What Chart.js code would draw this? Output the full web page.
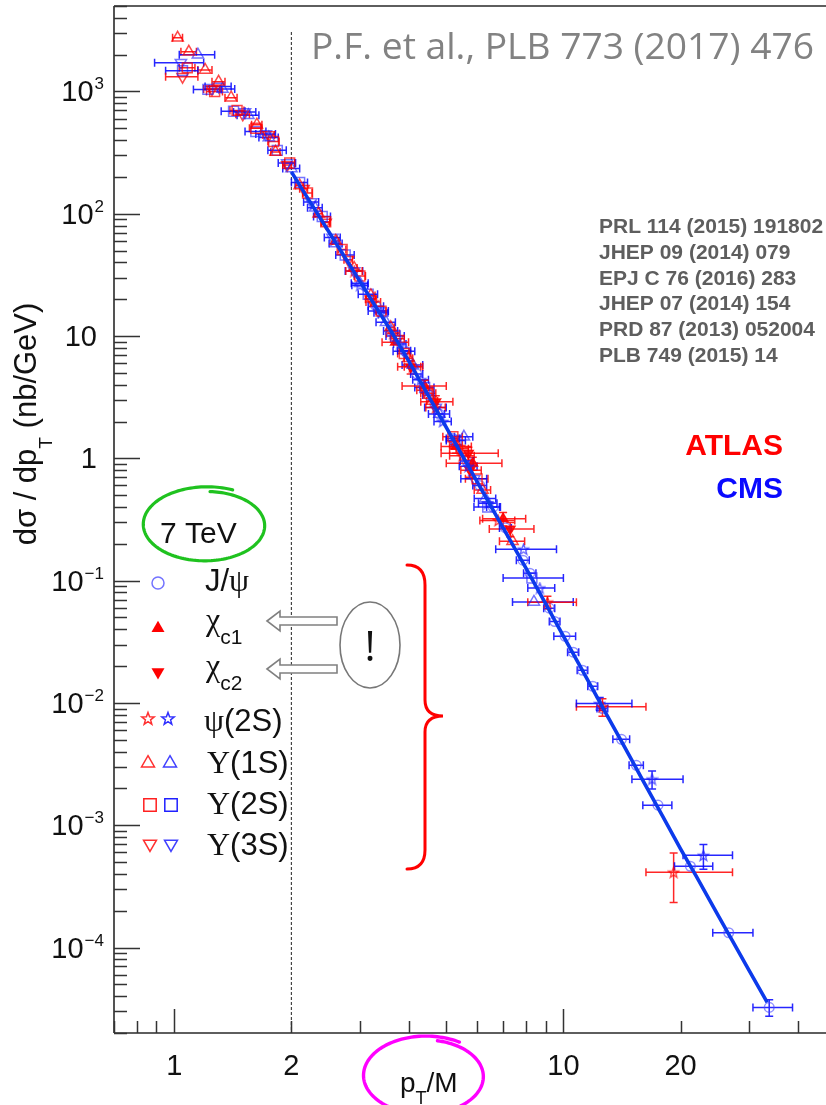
<!DOCTYPE html>
<html>
<head>
<meta charset="utf-8">
<script src="https://cdn.jsdelivr.net/npm/chart.js@4.4.1/dist/chart.umd.min.js"></script>
<style>
html,body{margin:0;padding:0;background:#fff;}
canvas{display:block;}
</style>
</head>
<body>
<canvas id="c" width="826" height="1105"></canvas>
<script>
// ---------------- DATA ----------------
// Universal fit curve
const fitX = [2.0, 2.2, 2.4, 2.6, 2.8, 3.0, 3.3, 3.6, 4.0, 4.5, 5.0, 5.5, 6.0, 7.0, 8.0, 9.0, 10, 11, 12, 13, 14, 15, 16, 18, 20, 22, 25, 28, 30, 33.4];
const fitY = [220, 135, 87, 58, 39.8, 28, 17.2, 11.1, 6.3, 3.24, 1.79, 1.05, 0.644, 0.27, 0.128, 0.065, 0.0352, 0.0204, 0.0123, 0.00774, 0.00505, 0.00339, 0.00233, 0.00118, 6.4e-4, 3.78e-4, 1.82e-4, 9.6e-5, 6.5e-5, 3.56e-5];

// CMS J/psi (open circles)
const cmsJpsiX = [3.3, 3.6, 3.9, 4.2, 4.5, 4.8, 5.2, 5.65, 6.1, 6.6, 7.1, 7.87, 8.2, 9.2, 9.5, 10.1, 10.6, 11.2, 11.9, 12.6, 14.1, 15.4, 17.5, 21.2, 26.6, 33.8];
const cmsJpsiY = [17.5, 11.0, 7.6, 4.9, 3.3, 2.3, 1.45, 0.95, 0.60, 0.40, 0.27, 0.147, 0.115, 0.0596, 0.0463, 0.0351, 0.026, 0.0185, 0.0137, 0.0090, 0.00504, 0.00309, 0.00146, 4.62e-4, 1.32e-4, 3.24e-5];
const cmsJpsiXerr = [0.15, 0.15, 0.15, 0.15, 0.15, 0.15, 0.2, 0.22, 0.25, 0.25, 0.25, 0.3, 0.3, 0.3, 0.3, 0.65, 0.35, 0.35, 0.35, 0.4, 0.7, 0.65, 1.5, [1.9, 3.0], [2.4, 4.1], [3.1, 5.0]];
const cmsJpsiYerr = [0.5, 0.35, 0.22, 0.15, 0.1, 0.07, 0.045, 0.03, 0.02, 0.013, 0.009, 0.005, 0.004, 0.002, 0.0016, 0.0012, 0.0009, 0.0007, 0.0005, 0.0004, 0.00022, 0.00015, 0.0001, 3.5e-5, 1.2e-5, 5e-6];

// CMS psi(2S) (open stars)
const cmsPsi2SX = [3.0, 3.4, 3.8, 4.3, 4.9, 5.7, 6.4, 7.9, 8.7, 12.4, 16.9, 22.9];
const cmsPsi2SY = [26, 15.5, 8.6, 4.4, 2.0, 0.86, 0.43, 0.181, 0.087, 0.0099, 0.00238, 5.67e-4];
const cmsPsi2SXerr = [0.14, 0.14, 0.14, 0.2, 0.25, 0.3, 0.35, [1.2, 1.7], [0.6, 0.8], [1.6, 2.6], [1.9, 3.4], [2.6, 4.3]];
const cmsPsi2SYerr = [1.0, 0.6, 0.35, 0.2, 0.1, 0.05, 0.03, 0.015, 0.007, 0.0012, 0.0004, 1.3e-4];

// ATLAS psi(2S) (open stars)
const atlasPsi2SX = [2.9, 3.25, 3.65, 4.1, 4.7, 5.5, 6.8, 9.1, 12.6, 19.2];
const atlasPsi2SY = [34, 19, 10.5, 5.6, 2.6, 1.05, 0.31, 0.0667, 0.0093, 4.13e-4];
const atlasPsi2SXerr = [0.14, 0.14, 0.14, 0.2, 0.27, 0.4, 0.7, [1.0, 1.7], [1.8, 3.7], [2.9, 8.0]];
const atlasPsi2SYerr = [2.0, 1.2, 0.7, 0.4, 0.2, 0.09, 0.03, 0.008, 0.0015, 1.8e-4];

// ATLAS chi_c1 (filled triangles)
const atlasChic1X = [3.7, 4.4, 5.3, 5.85, 7.0];
const atlasChic1Y = [8.9, 3.9, 1.25, 0.91, 0.32];
const atlasChic1Xerr = [[0.28, 0.3], [0.55, 0.6], [0.45, 0.5], [0.85, 1.1], [0.8, 1.0]];
const atlasChic1Yerr = [1.0, 0.45, 0.15, 0.11, 0.04];

// ATLAS chi_c2 (filled inverted triangles)
const atlasChic2X = [4.05, 4.7, 5.7, 5.75, 7.3];
const atlasChic2Y = [5.6, 2.9, 1.1, 0.8, 0.264];
const atlasChic2Xerr = [[0.3, 0.3], [0.4, 0.5], [0.85, 1.1], [0.3, 0.4], [0.85, 1.1]];
const atlasChic2Yerr = [0.7, 0.35, 0.13, 0.1, 0.035];

// Upsilon(1S)
const atlasUps1SX = [1.02, 1.09, 1.20, 1.30, 1.40, 1.63, 1.82, 2.1, 2.35, 2.6, 2.9, 3.2, 3.6, 4.0, 4.6, 5.3, 6.2, 7.4];
const atlasUps1SY = [2750, 2110, 1500, 1200, 890, 535, 320, 170, 100, 60, 36, 21.5, 11.8, 6.6, 2.95, 1.3, 0.55, 0.21];
const atlasUps1SXerr = [0.03, 0.05, 0.05, 0.05, 0.05, 0.05, 0.05, 0.05, 0.05, 0.05, 0.05, 0.08, 0.08, 0.1, 0.15, 0.2, 0.3, 0.55];
const cmsUps1SX = [1.15, 1.33, 1.55, 1.75, 2.0, 2.3, 2.6, 3.0, 3.5, 4.1, 4.8, 5.55, 6.3, 8.4];
const cmsUps1SY = [2000, 1050, 640, 420, 235, 112, 57, 27, 13, 5.8, 2.3, 1.5, 0.47, 0.067];
const cmsUps1SXerr = [0.12, 0.1, 0.1, 0.1, 0.1, 0.1, 0.1, 0.15, 0.2, 0.25, 0.3, 0.3, 0.4, [1.0, 2.2]];

// Upsilon(2S)
const atlasUps2SX = [1.08, 1.27, 1.45, 1.62, 1.80, 1.98, 2.2, 2.45, 2.7, 3.0, 3.4, 3.9, 4.5, 5.2, 6.0];
const atlasUps2SY = [1560, 1000, 700, 500, 390, 260, 148, 86, 51, 31, 16, 7.2, 3.4, 1.5, 0.68];
const atlasUps2SXerr = [0.05, 0.06, 0.06, 0.06, 0.06, 0.06, 0.06, 0.06, 0.06, 0.1, 0.1, 0.15, 0.2, 0.3, 0.4];
const cmsUps2SX = [1.05, 1.22, 1.42, 1.62, 1.84, 2.1, 2.4, 2.75, 3.15, 3.7, 4.4, 5.3, 6.39, 8.3];
const cmsUps2SY = [1480, 1040, 690, 470, 330, 180, 95, 46, 22, 10, 3.8, 1.4, 0.40, 0.105];
const cmsUps2SXerr = [0.1, 0.1, 0.1, 0.1, 0.1, 0.1, 0.12, 0.15, 0.18, 0.2, 0.25, 0.3, 0.5, [1.3, 1.7]];

// Upsilon(3S)
const atlasUps3SX = [1.05, 1.25, 1.5, 1.75, 1.95, 2.15, 2.45, 2.8, 3.2, 3.75, 4.4, 5.4];
const atlasUps3SY = [1320, 1050, 650, 440, 250, 160, 85, 42, 20, 9.5, 3.6, 1.2];
const atlasUps3SXerr = [0.1, 0.06, 0.06, 0.06, 0.05, 0.05, 0.06, 0.07, 0.1, 0.15, 0.2, 0.3];
const cmsUps3SX = [1.04, 1.30, 1.52, 1.72, 1.95, 2.25, 2.55, 2.9, 3.35, 3.9, 4.7, 5.9];
const cmsUps3SY = [1720, 1100, 680, 450, 260, 125, 64, 34, 16, 7.5, 2.6, 0.68];
const cmsUps3SXerr = [0.15, 0.1, 0.1, 0.1, 0.1, 0.1, 0.12, 0.15, 0.2, 0.25, 0.3, 0.45];

// Axis ticks / labels
const xTickValues = [1, 2, 10, 20];
const xTickLabels = ['1', '2', '10', '20'];
const yTickValues = [1e-4, 1e-3, 1e-2, 1e-1, 1, 10, 100, 1000];
const yTickBases = ['10', '10', '10', '10', '1', '10', '10', '10'];
const yTickExps = ['\u22124', '\u22123', '\u22122', '\u22121', '', '', '2', '3'];

// Text
const legendLabels = ['J/\u03C8', '\u03C7c1', '\u03C7c2', '\u03C8(2S)', '\u03A5(1S)', '\u03A5(2S)', '\u03A5(3S)'];
const citations = ['PRL 114 (2015) 191802', 'JHEP 09 (2014) 079', 'EPJ C 76 (2016) 283', 'JHEP 07 (2014) 154', 'PRD 87 (2013) 052004', 'PLB 749 (2015) 14'];
const headerText = 'P.F. et al., PLB 773 (2017) 476';

// ---------------- STYLE / BUILD ----------------
const SANS = '"Liberation Sans", Arial, Helvetica, sans-serif';
const SERIF = '"Liberation Serif", "Times New Roman", serif';
Chart.defaults.font.family = SANS;

const RED_M = 'rgba(255,0,0,0.72)';
const BLUE_M = 'rgba(30,30,255,0.62)';
const RED_E = 'rgba(255,0,0,0.85)';
const BLUE_E = 'rgba(0,0,255,0.85)';

function starCanvas(color, size) {
  const c = document.createElement('canvas');
  c.width = c.height = size;
  const g = c.getContext('2d');
  g.strokeStyle = color; g.lineWidth = 1.3; g.lineJoin = 'miter';
  const R = size / 2 - 1, r = R * 0.42, cx = size / 2, cy = size / 2 + 0.5;
  g.beginPath();
  for (let k = 0; k < 10; k++) {
    const a = -Math.PI / 2 + k * Math.PI / 5;
    const rr = (k % 2) ? r : R;
    const px = cx + rr * Math.cos(a), py = cy + rr * Math.sin(a);
    if (k) g.lineTo(px, py); else g.moveTo(px, py);
  }
  g.closePath(); g.stroke();
  return c;
}
const redStar = starCanvas('rgba(255,0,0,0.8)', 13);
const blueStar = starCanvas('rgba(30,30,255,0.75)', 13);

function pts(xs, ys) { return xs.map((x, i) => ({ x: x, y: ys[i] })); }

function series(label, xs, ys, xe, ye, style, color, errColor, extra) {
  return Object.assign({
    label: label,
    data: pts(xs, ys),
    xErr: xe, yErr: ye, errColor: errColor,
    showLine: false,
    pointStyle: style,
    pointRadius: 6,
    pointRotation: 0,
    borderColor: color,
    backgroundColor: 'rgba(0,0,0,0)',
    pointBorderWidth: 1.5,
    order: 2
  }, extra || {});
}

const datasets = [
  {
    type: 'line', label: 'fit', data: pts(fitX, fitY), showLine: true,
    borderColor: 'rgb(12,58,235)', borderWidth: 3.6, pointRadius: 0, tension: 0, order: 0
  },
  series('ATLAS \u03A5(1S)', atlasUps1SX, atlasUps1SY, atlasUps1SXerr, null, 'triangle', RED_M, RED_E, { pointRadius: 6.5 }),
  series('CMS \u03A5(1S)', cmsUps1SX, cmsUps1SY, cmsUps1SXerr, null, 'triangle', BLUE_M, BLUE_E, { pointRadius: 6.5 }),
  series('ATLAS \u03A5(2S)', atlasUps2SX, atlasUps2SY, atlasUps2SXerr, null, 'rect', RED_M, RED_E, { pointRadius: 7 }),
  series('CMS \u03A5(2S)', cmsUps2SX, cmsUps2SY, cmsUps2SXerr, null, 'rect', BLUE_M, BLUE_E, { pointRadius: 7 }),
  series('ATLAS \u03A5(3S)', atlasUps3SX, atlasUps3SY, atlasUps3SXerr, null, 'triangle', RED_M, RED_E, { pointRadius: 6.5, pointRotation: 180 }),
  series('CMS \u03A5(3S)', cmsUps3SX, cmsUps3SY, cmsUps3SXerr, null, 'triangle', BLUE_M, BLUE_E, { pointRadius: 6.5, pointRotation: 180 }),
  series('ATLAS \u03C8(2S)', atlasPsi2SX, atlasPsi2SY, atlasPsi2SXerr, atlasPsi2SYerr, redStar, RED_M, RED_E, {}),
  series('CMS \u03C8(2S)', cmsPsi2SX, cmsPsi2SY, cmsPsi2SXerr, cmsPsi2SYerr, blueStar, BLUE_M, BLUE_E, {}),
  series('ATLAS \u03C7c1', atlasChic1X, atlasChic1Y, atlasChic1Xerr, atlasChic1Yerr, 'triangle', 'rgba(255,0,0,0.9)', RED_E, { pointRadius: 5.5, backgroundColor: 'rgba(255,0,0,0.85)' }),
  series('ATLAS \u03C7c2', atlasChic2X, atlasChic2Y, atlasChic2Xerr, atlasChic2Yerr, 'triangle', 'rgba(255,0,0,0.9)', RED_E, { pointRadius: 5.5, pointRotation: 180, backgroundColor: 'rgba(255,0,0,0.85)' }),
  series('CMS J/\u03C8', cmsJpsiX, cmsJpsiY, cmsJpsiXerr, cmsJpsiYerr, 'circle', 'rgba(70,70,255,0.6)', BLUE_E, { pointRadius: 4.8 })
];

// ---------------- PLUGINS ----------------
const errorBars = {
  id: 'errorBars',
  beforeDatasetsDraw(chart) {
    const ctx = chart.ctx, a = chart.chartArea, xs = chart.scales.x, ys = chart.scales.y;
    ctx.save();
    ctx.beginPath(); ctx.rect(a.left, a.top, a.right - a.left, a.bottom - a.top); ctx.clip();
    // dashed vertical line at pT/M = 2
    const x2 = xs.getPixelForValue(2);
    ctx.strokeStyle = '#444'; ctx.lineWidth = 1.2; ctx.setLineDash([3, 2]);
    ctx.beginPath(); ctx.moveTo(x2, 32); ctx.lineTo(x2, a.bottom); ctx.stroke();
    ctx.setLineDash([]);
    chart.data.datasets.forEach((ds, i) => {
      if (!ds.xErr) return;
      const meta = chart.getDatasetMeta(i);
      ctx.strokeStyle = ds.errColor; ctx.lineWidth = 1.5;
      ds.data.forEach((p, j) => {
        const el = meta.data[j]; if (!el) return;
        const px = el.x, py = el.y;
        const xe = ds.xErr[j];
        const lo = Array.isArray(xe) ? xe[0] : xe, hi = Array.isArray(xe) ? xe[1] : xe;
        const xl = xs.getPixelForValue(p.x - lo), xh = xs.getPixelForValue(p.x + hi);
        ctx.beginPath();
        ctx.moveTo(xl, py); ctx.lineTo(xh, py);
        ctx.moveTo(xl, py - 4); ctx.lineTo(xl, py + 4);
        ctx.moveTo(xh, py - 4); ctx.lineTo(xh, py + 4);
        const ye = ds.yErr ? ds.yErr[j] : 0;
        if (ye) {
          const yl = ys.getPixelForValue(Math.max(p.y - ye, p.y * 0.05)), yh = ys.getPixelForValue(p.y + ye);
          if (Math.abs(yl - yh) > 12) {
            ctx.moveTo(px, yl); ctx.lineTo(px, yh);
            ctx.moveTo(px - 4, yl); ctx.lineTo(px + 4, yl);
            ctx.moveTo(px - 4, yh); ctx.lineTo(px + 4, yh);
          }
        }
        ctx.stroke();
      });
    });
    ctx.restore();
  }
};

function drawMarker(ctx, type, x, y, color, filled, size) {
  ctx.save();
  ctx.strokeStyle = color; ctx.fillStyle = color; ctx.lineWidth = 1.5;
  ctx.beginPath();
  if (type === 'circle') {
    ctx.arc(x, y, size, 0, Math.PI * 2);
  } else if (type === 'tri' || type === 'itri') {
    const s = type === 'tri' ? 1 : -1;
    for (let k = 0; k < 3; k++) {
      const ang = -Math.PI / 2 + k * 2 * Math.PI / 3;
      const px = x + size * Math.cos(ang), py = y + s * size * Math.sin(ang) + s * size * 0.15;
      if (k) ctx.lineTo(px, py); else ctx.moveTo(px, py);
    }
    ctx.closePath();
  } else if (type === 'rect') {
    ctx.rect(x - size, y - size, 2 * size, 2 * size);
  } else if (type === 'star') {
    const R = size, r = size * 0.42;
    for (let k = 0; k < 10; k++) {
      const ang = -Math.PI / 2 + k * Math.PI / 5;
      const rr = (k % 2) ? r : R;
      const px = x + rr * Math.cos(ang), py = y + rr * Math.sin(ang);
      if (k) ctx.lineTo(px, py); else ctx.moveTo(px, py);
    }
    ctx.closePath();
  }
  if (filled) ctx.fill(); else ctx.stroke();
  ctx.restore();
}

function handLoop(ctx, cx, cy, rx, ry, startAng, sweep, g0, g1, color, width) {
  ctx.save();
  ctx.strokeStyle = color; ctx.lineWidth = width; ctx.lineCap = 'round';
  ctx.beginPath();
  const N = 160;
  for (let i = 0; i <= N; i++) {
    const t = i / N;
    const a = startAng + sweep * t;
    const s = g0 + (g1 - g0) * t;
    const px = cx + rx * s * Math.cos(a), py = cy + ry * s * Math.sin(a);
    if (i) ctx.lineTo(px, py); else ctx.moveTo(px, py);
  }
  ctx.stroke();
  ctx.restore();
}

function hollowArrow(ctx, yc) {
  ctx.save();
  ctx.strokeStyle = '#808080'; ctx.fillStyle = '#fff'; ctx.lineWidth = 1.6;
  ctx.beginPath();
  ctx.moveTo(267, yc);
  ctx.lineTo(280, yc - 10);
  ctx.lineTo(280, yc - 4);
  ctx.lineTo(337, yc - 4);
  ctx.lineTo(337, yc + 4);
  ctx.lineTo(280, yc + 4);
  ctx.lineTo(280, yc + 10);
  ctx.closePath();
  ctx.fill(); ctx.stroke();
  ctx.restore();
}

function textRuns(ctx, runs, x, y) {
  let cx = x;
  runs.forEach(r => {
    ctx.font = r.font;
    ctx.fillText(r.t, cx, y + (r.dy || 0));
    cx += ctx.measureText(r.t).width;
  });
  return cx;
}
function runsWidth(ctx, runs) {
  let w = 0;
  runs.forEach(r => { ctx.font = r.font; w += ctx.measureText(r.t).width; });
  return w;
}

const decor = {
  id: 'decor',
  afterDraw(chart) {
    const ctx = chart.ctx, a = chart.chartArea, xs = chart.scales.x, ys = chart.scales.y;
    ctx.save();
    // frame
    ctx.strokeStyle = '#2a2a2a'; ctx.lineWidth = 1.6;
    ctx.beginPath();
    ctx.moveTo(a.left, a.top); ctx.lineTo(a.right, a.top);
    ctx.moveTo(a.left, a.top); ctx.lineTo(a.left, a.bottom);
    ctx.moveTo(a.left, a.bottom); ctx.lineTo(a.right, a.bottom);
    ctx.stroke();
    // inward ticks
    ctx.strokeStyle = '#333'; ctx.lineWidth = 1.5;
    ctx.beginPath();
    for (let e = -6; e <= 4; e++) {
      for (let k = 1; k <= 9; k++) {
        const v = k * Math.pow(10, e);
        if (v < ys.min * 0.999 || v > ys.max * 1.001) continue;
        const py = Math.round(ys.getPixelForValue(v)) + 0.5;
        const len = k === 1 ? 26 : 13;
        ctx.moveTo(a.left, py); ctx.lineTo(a.left + len, py);
      }
    }
    for (let e = -1; e <= 2; e++) {
      for (let k = 1; k <= 9; k++) {
        const v = k * Math.pow(10, e);
        if (v < xs.min * 0.999 || v > xs.max) continue;
        const px = Math.round(xs.getPixelForValue(v)) + 0.5;
        const len = k === 1 ? 24 : 12;
        ctx.moveTo(px, a.bottom); ctx.lineTo(px, a.bottom - len);
      }
    }
    ctx.stroke();

    // tick labels
    ctx.fillStyle = '#111';
    ctx.textBaseline = 'alphabetic';
    xTickValues.forEach((v, i) => {
      ctx.font = '29px ' + SANS; ctx.textAlign = 'center';
      ctx.fillText(xTickLabels[i], xs.getPixelForValue(v), 1075);
    });
    yTickValues.forEach((v, i) => {
      const py = ys.getPixelForValue(v);
      const base = yTickBases[i], ex = yTickExps[i];
      ctx.textAlign = 'left';
      if (ex) {
        ctx.font = '17px ' + SANS; const we = ctx.measureText(ex).width;
        ctx.font = '29px ' + SANS; const wb = ctx.measureText(base).width;
        const x0 = 104 - we - wb - 1;
        ctx.fillText(base, x0, py + 10);
        ctx.font = '17px ' + SANS;
        ctx.fillText(ex, x0 + wb + 1, py - 2);
      } else {
        ctx.font = '29px ' + SANS; ctx.textAlign = 'right';
        ctx.fillText(base, 97, py + 10);
      }
    });

    // axis titles
    ctx.textAlign = 'left';
    const yRuns = [
      { t: 'd\u03C3 / dp', font: '31px ' + SANS },
      { t: 'T', font: '19px ' + SANS, dy: 16 },
      { t: ' (nb/GeV)', font: '31px ' + SANS }
    ];
    ctx.save();
    ctx.translate(36, 424);
    ctx.rotate(-Math.PI / 2);
    const yw = runsWidth(ctx, yRuns);
    textRuns(ctx, yRuns, -yw / 2, 0);
    ctx.restore();

    const xRuns = [
      { t: 'p', font: '28px ' + SANS },
      { t: 'T', font: '18px ' + SANS, dy: 12 },
      { t: '/M', font: '28px ' + SANS }
    ];
    textRuns(ctx, xRuns, 400, 1092);

    // header
    ctx.fillStyle = '#828282';
    let hs = 36;
    ctx.font = hs + 'px "Open Sans", ' + SANS;
    hs = hs * 503 / ctx.measureText(headerText).width;
    ctx.font = hs.toFixed(1) + 'px "Open Sans", ' + SANS;
    ctx.fillText(headerText, 311, 59);

    // citations
    ctx.fillStyle = '#5e5e5e';
    ctx.font = 'bold 21px ' + SANS;
    const cb = [233, 259, 285, 310, 336, 362];
    citations.forEach((t, i) => ctx.fillText(t, 599, cb[i]));

    // ATLAS / CMS
    ctx.textAlign = 'right';
    ctx.font = 'bold 30px ' + SANS;
    ctx.fillStyle = '#ff0000'; ctx.fillText('ATLAS', 783, 455);
    ctx.fillStyle = '#0a0aff'; ctx.fillText('CMS', 783, 498);
    ctx.textAlign = 'left';

    // 7 TeV + green loop
    ctx.fillStyle = '#111';
    ctx.font = '30px ' + SANS;
    ctx.fillText('7 TeV', 160, 543);
    handLoop(ctx, 206, 525, 61, 36, -1.15, -(2 * Math.PI + 0.35), 1.07, 0.93, '#1fc21f', 3.2);

    // legend
    const rows = [583, 627, 673, 719, 762, 805, 845];
    drawMarker(ctx, 'circle', 158, rows[0], 'rgba(80,80,255,0.8)', false, 6);
    drawMarker(ctx, 'tri', 158, rows[1], '#ff0000', true, 7.5);
    drawMarker(ctx, 'itri', 158, rows[2], '#ff0000', true, 7.5);
    drawMarker(ctx, 'star', 148, rows[3], '#ff3030', false, 6.5);
    drawMarker(ctx, 'star', 168, rows[3], '#3030ff', false, 6.5);
    drawMarker(ctx, 'tri', 148, rows[4], '#ff3030', false, 7.5);
    drawMarker(ctx, 'tri', 170, rows[4], '#4040ff', false, 7.5);
    drawMarker(ctx, 'rect', 150, rows[5], '#ff2020', false, 6.2);
    drawMarker(ctx, 'rect', 171, rows[5], '#2020ff', false, 6.2);
    drawMarker(ctx, 'itri', 150, rows[6], '#ff3030', false, 7.5);
    drawMarker(ctx, 'itri', 171, rows[6], '#4040ff', false, 7.5);

    ctx.fillStyle = '#111';
    const LF = '31px ' + SANS, GF = '32px ' + SERIF, SF = '21px ' + SANS;
    textRuns(ctx, [{ t: 'J/', font: LF }, { t: legendLabels[0].slice(2), font: GF }], 205, 591);
    textRuns(ctx, [{ t: legendLabels[1][0], font: GF }, { t: legendLabels[1].slice(1), font: SF, dy: 14 }], 206, 630);
    textRuns(ctx, [{ t: legendLabels[2][0], font: GF }, { t: legendLabels[2].slice(1), font: SF, dy: 14 }], 206, 676);
    textRuns(ctx, [{ t: legendLabels[3][0], font: GF }, { t: legendLabels[3].slice(1), font: LF }], 204, 731);
    textRuns(ctx, [{ t: legendLabels[4][0], font: GF }, { t: legendLabels[4].slice(1), font: LF }], 207, 773);
    textRuns(ctx, [{ t: legendLabels[5][0], font: GF }, { t: legendLabels[5].slice(1), font: LF }], 207, 814);
    textRuns(ctx, [{ t: legendLabels[6][0], font: GF }, { t: legendLabels[6].slice(1), font: LF }], 207, 855);

    // hollow arrows and "!" ellipse
    hollowArrow(ctx, 621);
    hollowArrow(ctx, 669);
    ctx.strokeStyle = '#777'; ctx.lineWidth = 1.6; ctx.fillStyle = '#fff';
    ctx.beginPath(); ctx.ellipse(370, 645, 30, 43, 0, 0, Math.PI * 2); ctx.fill(); ctx.stroke();
    ctx.fillStyle = '#111'; ctx.textAlign = 'center';
    ctx.font = '42px "Open Sans", ' + SANS;
    ctx.fillText('!', 370, 661);
    ctx.textAlign = 'left';

    // red brace
    ctx.strokeStyle = '#ff0000'; ctx.lineWidth = 3; ctx.lineCap = 'round';
    ctx.beginPath();
    ctx.moveTo(407, 565);
    ctx.quadraticCurveTo(425, 565, 425, 585);
    ctx.lineTo(425, 700);
    ctx.quadraticCurveTo(425, 716, 443, 716);
    ctx.quadraticCurveTo(425, 716, 425, 732);
    ctx.lineTo(425, 850);
    ctx.quadraticCurveTo(425, 869, 407, 869);
    ctx.stroke();

    // magenta loop around x title
    handLoop(ctx, 425, 1076, 60, 38, -1.0, -(2 * Math.PI + 0.35), 1.06, 0.95, '#ff00ff', 3.4);

    ctx.restore();
  }
};

// ---------------- CHART ----------------
new Chart(document.getElementById('c'), {
  type: 'scatter',
  data: { datasets: datasets },
  options: {
    responsive: false,
    animation: false,
    devicePixelRatio: 1,
    events: [],
    layout: { autoPadding: false, padding: { left: 114, top: 6, right: 0, bottom: 72 } },
    plugins: { legend: { display: false }, tooltip: { enabled: false } },
    scales: {
      x: {
        type: 'logarithmic', min: 0.7, max: 47.3,
        ticks: { display: false }, grid: { display: false, drawTicks: false },
        border: { display: false },
        afterFit: s => { s.height = 0; }
      },
      y: {
        type: 'logarithmic', min: 2e-5, max: 5000,
        ticks: { display: false }, grid: { display: false, drawTicks: false },
        border: { display: false },
        afterFit: s => { s.width = 0; }
      }
    }
  },
  plugins: [errorBars, decor]
});
</script>
</body>
</html>
